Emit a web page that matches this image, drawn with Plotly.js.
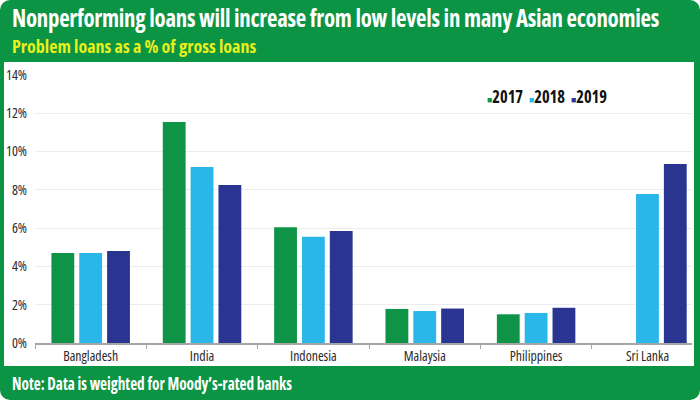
<!DOCTYPE html>
<html>
<head>
<meta charset="utf-8">
<script src="https://cdn.plot.ly/plotly-3.0.1.min.js"></script>
<style>
  html, body { margin: 0; padding: 0; background: #ffffff; }
  #chart { width: 700px; height: 400px; border-radius: 10px; overflow: hidden; }
</style>
</head>
<body>
<div id="chart"></div>
<script>
const categories = ["Bangladesh", "India", "Indonesia", "Malaysia", "Philippines", "Sri Lanka"];
const seriesNames = ["2017", "2018", "2019"];
const values2017 = [4.7, 11.55, 6.05, 1.78, 1.5, null];
const values2018 = [4.7, 9.2, 5.55, 1.67, 1.57, 7.78];
const values2019 = [4.8, 8.25, 5.85, 1.8, 1.84, 9.35];
const yTicks = [0, 2, 4, 6, 8, 10, 12, 14];
const yTickText = yTicks.map(v => v + "%");

const titleText = "Nonperforming loans will increase from low levels in many Asian economies";
const subtitleText = "Problem loans as a % of gross loans";
const noteText = "Note: Data is weighted for Moody\u2019s-rated banks";

const colors = ["#0f9447", "#29b6e8", "#2a3591"];

// ---- choose the narrowest installed face (condensed lettering as in the reference)
const ctx = document.createElement("canvas").getContext("2d");
const SAMPLE = "Nonperforming loans will increase 2017";
function measure(family, stretch) {
  ctx.font = "bold 20px " + family;
  try { ctx.fontStretch = stretch || "normal"; } catch (e) {}
  return ctx.measureText(SAMPLE).width;
}
const mono = measure("monospace");
const candidates = [
  { family: "'Liberation Sans Narrow'", stretch: "normal" },
  { family: "'Roboto Condensed'", stretch: "normal" },
  { family: "'Noto Sans ExtraCondensed'", stretch: "normal" },
  { family: "'Noto Sans Condensed'", stretch: "normal" },
  { family: "'DejaVu Sans Condensed'", stretch: "normal" },
  { family: "'Noto Sans'", stretch: "extra-condensed" },
  { family: "'Noto Sans'", stretch: "condensed" },
  { family: "'Open Sans'", stretch: "condensed" },
  { family: "Roboto", stretch: "condensed" },
  { family: "Roboto", stretch: "normal" }
];
let best = { family: "Roboto", stretch: "normal", w: measure("Roboto") };
for (const c of candidates) {
  const w = measure(c.family + ", monospace", c.stretch);
  const base = measure(c.family + ", monospace", "normal");
  const installed = Math.abs(w - mono) > 0.5 || Math.abs(base - mono) > 0.5;
  const stretchWorks = c.stretch === "normal" || Math.abs(w - base) > 0.5;
  if (installed && stretchWorks && w < best.w - 0.5) best = { family: c.family, stretch: c.stretch, w: w };
}
const FONT = best.family + ", Roboto, sans-serif";
if (best.stretch !== "normal") {
  const st = document.createElement("style");
  st.textContent = "#chart text { font-stretch: " + best.stretch + "; }";
  document.head.appendChild(st);
}

const allValues = [values2017, values2018, values2019];
const traces = seriesNames.map((name, i) => ({
  type: "bar",
  name: name,
  x: categories,
  y: allValues[i],
  marker: { color: colors[i] },
  hoverinfo: "x+y+name"
}));

// legend: one text line with coloured square glyphs
const legendText = seriesNames.map((name, i) =>
  '<span style="color:' + colors[i] + ';font-size:9px">\u25A0</span>' + name).join("  ");

const layout = {
  width: 700,
  height: 400,
  paper_bgcolor: "#0b9444",
  plot_bgcolor: "#ffffff",
  margin: { l: 35, r: 8, t: 75, b: 57, pad: 0 },
  barmode: "group",
  bargap: 0.25,
  bargroupgap: 0.18,
  font: { family: FONT, color: "#222222", size: 14 },
  showlegend: false,
  xaxis: {
    type: "category",
    range: [-0.5, 5.4],
    showline: true,
    linecolor: "#a6a6a6",
    linewidth: 1.5,
    ticks: "outside",
    tickson: "boundaries",
    ticklen: 4,
    tickcolor: "#a6a6a6",
    showgrid: false,
    tickfont: { family: FONT, size: 14, color: "#2a2a2a" },
    fixedrange: true
  },
  yaxis: {
    range: [0, 14],
    tickmode: "array",
    tickvals: yTicks,
    ticktext: yTickText,
    showgrid: true,
    gridcolor: "#ececec",
    gridwidth: 1,
    zeroline: false,
    showline: false,
    ticks: "",
    ticklabelstandoff: 7,
    tickfont: { family: FONT, size: 14, color: "#2a2a2a" },
    fixedrange: true
  },
  shapes: [
    {
      type: "rect", xref: "paper", yref: "paper", layer: "below",
      x0: -0.0472, x1: 1.003, y0: -0.0858, y1: 1.0485,
      fillcolor: "#ffffff", line: { width: 0 }
    }
  ],
  annotations: [
    {
      text: titleText, xref: "paper", yref: "paper",
      x: -0.038, y: 1.216, xanchor: "left", yanchor: "middle", align: "left", showarrow: false,
      font: { family: FONT, size: 24, color: "#ffffff", weight: "bold" }
    },
    {
      text: subtitleText, xref: "paper", yref: "paper",
      x: -0.038, y: 1.108, xanchor: "left", yanchor: "middle", align: "left", showarrow: false,
      font: { family: FONT, size: 18, color: "#e8f01c", weight: "bold" }
    },
    {
      text: noteText, xref: "paper", yref: "paper",
      x: -0.038, y: -0.149, xanchor: "left", yanchor: "middle", align: "left", showarrow: false,
      font: { family: FONT, size: 18, color: "#ffffff", weight: "bold" }
    },
    {
      text: legendText, xref: "paper", yref: "paper",
      x: 0.685, y: 0.918, xanchor: "left", yanchor: "middle", align: "left", showarrow: false,
      font: { family: FONT, size: 17, color: "#111111", weight: "bold" }
    }
  ]
};

// widths (px) the texts take in the reference: [natural-width cap, drawn width]
const annTargets = [[680, 647], [null, 247], [null, 280], [null, 120]];

// tighten letter spacing so a text's own width stays inside the figure
function tighten(el, target) {
  const w = el.getComputedTextLength();
  const n = el.textContent.length;
  if (w > 0 && n > 0 && target < w - 0.5) {
    el.style.letterSpacing = ((target - w) / n).toFixed(3) + "px";
  }
}
// condense glyphs to the width the text has in the reference
function squeeze(el, target) {
  const w = el.getComputedTextLength();
  if (w > 0 && target < w - 0.5) {
    el.setAttribute("textLength", target);
    el.setAttribute("lengthAdjust", "spacingAndGlyphs");
  }
}

Plotly.newPlot("chart", traces, layout, { displayModeBar: false, staticPlot: true }).then(gd => {
  gd.querySelectorAll(".annotation-text").forEach((t, i) => {
    const tg = annTargets[i];
    if (!tg) return;
    if (tg[0]) tighten(t, tg[0]);
    squeeze(t, tg[1]);
  });
  const xt = gd.querySelectorAll(".xtick text");
  let xf = 1;
  xt.forEach(t => { if (t.textContent === "Bangladesh") xf = 55 / t.getComputedTextLength(); });
  xt.forEach(t => squeeze(t, t.getComputedTextLength() * xf));
  const yt = gd.querySelectorAll(".ytick text");
  let yf = 1;
  yt.forEach(t => { if (t.textContent === "14%") yf = 21 / t.getComputedTextLength(); });
  yt.forEach(t => squeeze(t, t.getComputedTextLength() * yf));
});
</script>
</body>
</html>
